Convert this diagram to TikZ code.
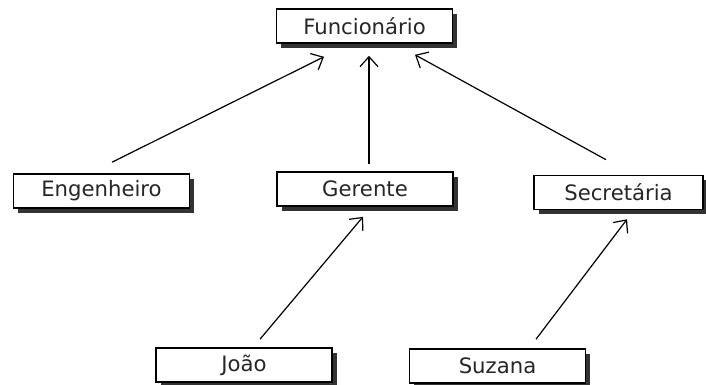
\documentclass[tikz,border=0pt]{standalone}
\usepackage{fontspec}
\setmainfont{DejaVu Sans}
\usetikzlibrary{arrows.meta, shadows, calc, positioning}
\tikzset{
    classe/.style={rectangle, draw, thick, fill=white, minimum width=88pt, minimum height=17pt, inner sep=0pt, text=black!85, font=\fontsize{10.6}{12}\selectfont, drop shadow={shadow xshift=2.4pt, shadow yshift=-2.4pt, fill=black!80, opacity=1}},
    heranca/.style={-{Straight Barb[length=5pt, width=9pt]}, line width=0.6pt},
}
\newcommand{\drawHeranca}[4]{
    \draw[heranca] ($(#1.north)+(#2)$) -- ($(#3.south)+(#4)$);
}
\begin{document}
\begin{tikzpicture}[x=0.5pt, y=-0.5pt]
        \useasboundingbox (0,0) rectangle (706,385);

        \node[classe] (func) at (364.5, 26) {Funcionário};
        \node[classe] (eng) at (101.5, 191) {Engenheiro};
        \node[classe] (ger) at (365, 189) {Gerente};
        \node[classe, minimum width=84.5pt] (sec) at (618.5, 192.5) {Secretária};
        \node[classe] (joao) at (244, 365) {João};
        \node[classe] (suz) at (497.5, 366) {Suzana};

        \drawHeranca{eng}{10.5,-11}{func}{-40.5,13}
        \drawHeranca{ger}{4,-7}{func}{4.5,12}
        \drawHeranca{sec}{-12.5,-15}{func}{50.5,11}
        \drawHeranca{joao}{16,-8}{ger}{-2,10}
        \drawHeranca{suz}{38.5,-9}{sec}{8.5,9}

    \end{tikzpicture}
\end{document}
